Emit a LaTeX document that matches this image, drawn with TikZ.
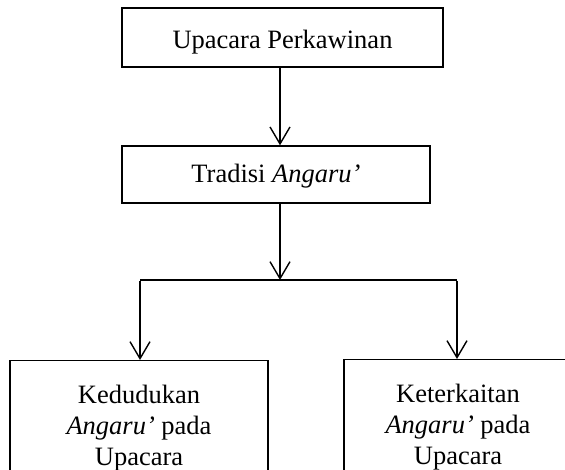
\documentclass[tikz,border=0pt]{standalone}
\usepackage{fontspec}
\setmainfont{Liberation Serif}
\usetikzlibrary{arrows.meta}
\begin{document}
\begin{tikzpicture}[x=1pt,y=-1pt,
  box/.style={draw,line width=1.4pt,inner sep=0pt,align=center,
    font=\fontsize{26.5}{31}\selectfont},
  lowbox/.style={box,anchor=north,inner xsep=0pt,inner ysep=24pt},
  arr/.style={line width=1.4pt,-{Straight Barb[length=17pt,width=20pt,line width=1.4pt]}},
  conn/.style={line width=1.4pt}]
\useasboundingbox (0,0) rectangle (565,470);
\clip (0,0) rectangle (565,470);
\node[box,minimum width=321pt,minimum height=59pt,text height=22pt,text depth=0.5pt] (top) at (282.5,37.5) {Upacara Perkawinan};
\node[box,minimum width=308pt,minimum height=57pt,text height=18pt,text depth=1pt] (mid) at (276,174.5) {Tradisi \textit{Angaru'}};
\node[lowbox,minimum width=258pt] (left) at (139,360) {Kedudukan\\\textit{Angaru'} pada\\Upacara};
\node[lowbox,minimum width=228pt] (right) at (458,359) {Keterkaitan\\\textit{Angaru'} pada\\Upacara};
\coordinate (ax) at (280,0);
\coordinate (j) at (280,280);
\coordinate (jl) at (140,280);
\coordinate (jr) at (457,280);
\draw[arr] (top.south -| ax) -- (mid.north -| ax);
\draw[arr] (mid.south -| ax) -- (j);
\draw[conn] (jl) -- (jr);
\draw[arr] ([yshift=-0.7pt]jl) -- (left.north -| jl);
\draw[arr] ([yshift=-0.7pt]jr) -- (right.north -| jr);
\end{tikzpicture}
\end{document}
